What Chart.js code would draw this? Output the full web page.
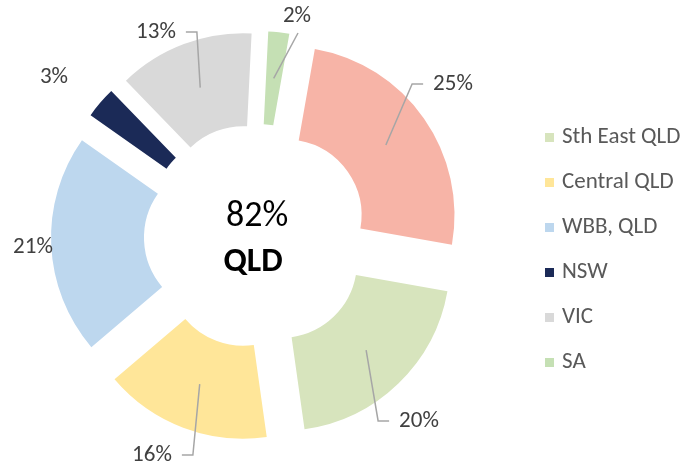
<!DOCTYPE html>
<html>
<head>
<meta charset="utf-8">
<script src="https://cdn.jsdelivr.net/npm/chart.js@4"></script>
<style>
  html, body { margin: 0; padding: 0; background: #fff; }
</style>
</head>
<body>
<canvas id="chart-regions" width="690" height="466"></canvas>
<script>
/* ── data ───────────────────────────────────────────── */
// first slice has no name in the legend
const regions = ['', 'Sth East QLD', 'Central QLD', 'WBB, QLD', 'NSW', 'VIC', 'SA'];
const shares  = [25, 20, 16, 21, 3, 13, 2];
const colours = ['#F7B4A7', '#D7E4BD', '#FFE699', '#BDD7EE', '#1B2A57', '#D9D9D9', '#C5E0B4'];
const centreValue = '82%';
const centreLabel = 'QLD';

/* ── layout ─────────────────────────────────────────── */
const FONT = 'Carlito, Calibri, Lato, sans-serif';
const EXPLODE = 36;
// label centre relative to the doughnut centre
const labelOffsets = [[197, -152], [163, 185], [-104, 219], [-223, 11], [-202, -159], [-100, -204], [41, -220]];
const leaderKinds  = ['side', 'side', 'side', null, null, 'side', 'top'];

function centreOf(chart) {
  const a = chart.chartArea;
  return { x: (a.left + a.right) / 2, y: (a.top + a.bottom) / 2 };
}

/* slices pushed out along their middle angle */
const explodePlugin = {
  id: 'explode',
  afterDatasetUpdate(chart, args) {
    const c = centreOf(chart);
    args.meta.data.forEach(arc => {
      const mid = (arc.startAngle + arc.endAngle) / 2;
      arc.x = c.x + Math.cos(mid) * EXPLODE;
      arc.y = c.y + Math.sin(mid) * EXPLODE;
    });
  }
};

/* percent labels with leader lines */
const labelPlugin = {
  id: 'sliceLabels',
  afterDatasetsDraw(chart) {
    const { ctx } = chart;
    const c = centreOf(chart);
    const meta = chart.getDatasetMeta(0);
    ctx.save();
    ctx.font = `23px ${FONT}`;
    ctx.textAlign = 'center';
    ctx.textBaseline = 'middle';
    meta.data.forEach((arc, i) => {
      const mid = (arc.startAngle + arc.endAngle) / 2;
      const r = (arc.innerRadius + arc.outerRadius) / 2;
      const sx = arc.x + Math.cos(mid) * r;
      const sy = arc.y + Math.sin(mid) * r;
      const lx = c.x + labelOffsets[i][0];
      const ly = c.y + labelOffsets[i][1];
      const text = shares[i] + '%';
      const w = ctx.measureText(text).width;

      ctx.strokeStyle = '#A6A6A6';
      ctx.lineWidth = 1.5;
      if (leaderKinds[i] === 'side') {
        const right = lx > sx;
        const edge = right ? lx - w / 2 : lx + w / 2;
        const dir = right ? -1 : 1;
        ctx.beginPath();
        ctx.moveTo(sx, sy);
        ctx.lineTo(edge + dir * 21, ly);
        ctx.lineTo(edge + dir * 10, ly);
        ctx.stroke();
      } else if (leaderKinds[i] === 'top') {
        ctx.beginPath();
        ctx.moveTo(sx, sy);
        ctx.lineTo(lx + 1, ly + 17);
        ctx.stroke();
      }
      ctx.fillStyle = '#404040';
      ctx.fillText(text, lx, ly);
    });
    ctx.restore();
  }
};

/* centre text + legend on the right */
const decorPlugin = {
  id: 'decor',
  afterDraw(chart) {
    const { ctx } = chart;
    const c = centreOf(chart);
    ctx.save();
    ctx.textAlign = 'center';
    ctx.textBaseline = 'middle';
    ctx.fillStyle = '#000';
    ctx.font = `36px ${FONT}`;
    ctx.fillText(centreValue, c.x + 1, c.y - 19);
    ctx.font = `bold 34px ${FONT}`;
    ctx.fillText(centreLabel, c.x - 3, c.y + 26);

    ctx.textAlign = 'left';
    ctx.font = `23px ${FONT}`;
    let y = 137.5;
    regions.forEach((name, i) => {
      if (!name) return;
      ctx.fillStyle = colours[i];
      ctx.fillRect(545, y - 4.5, 9, 9);
      ctx.fillStyle = '#595959';
      ctx.fillText(name, 562, y);
      y += 45;
    });
    ctx.restore();
  }
};

new Chart(document.getElementById('chart-regions'), {
  type: 'doughnut',
  data: {
    labels: regions,
    datasets: [{ data: shares, backgroundColor: colours, borderWidth: 0 }]
  },
  options: {
    responsive: false,
    animation: false,
    events: [],
    rotation: 10,
    radius: 169,
    cutout: '45%',
    layout: { padding: { left: 0, right: 178, top: 6, bottom: 0 } },
    plugins: { legend: { display: false }, tooltip: { enabled: false } }
  },
  plugins: [explodePlugin, labelPlugin, decorPlugin]
});
</script>
</body>
</html>
